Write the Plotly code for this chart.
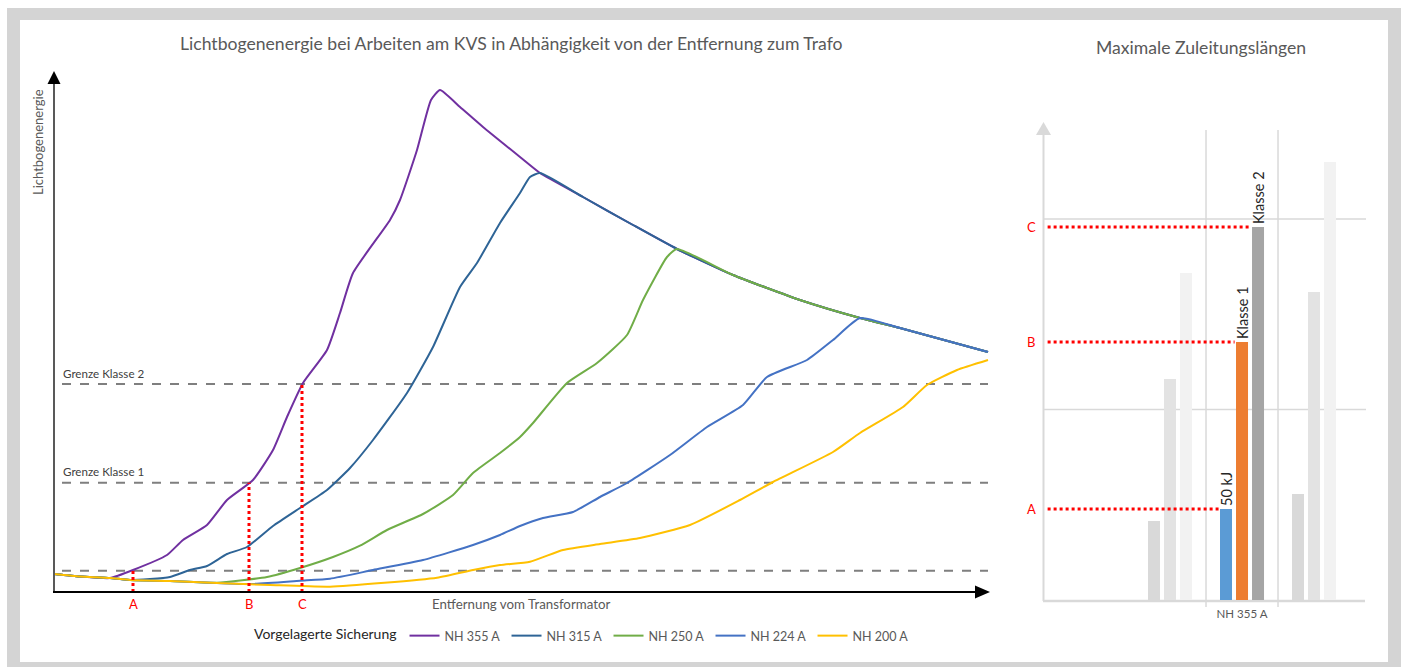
import plotly.graph_objects as go

W, H = 1401, 667

# ---------------- left chart data (arbitrary units: distance / energy) ----------------
envelope_x = [386, 406, 429, 466, 486, 529, 579, 623, 679, 746, 806, 846, 934]
envelope_y = [502, 485, 465, 435, 419, 395, 367, 343, 317, 292, 274, 264, 240]

nh355_x = [0, 26, 56, 79, 113, 129, 153, 173, 199, 219, 233, 249, 273, 286, 299, 336, 346, 363, 377]
nh355_y = [18, 15.5, 14, 22, 37, 52, 67, 92, 112, 142, 175, 209, 242, 279, 319, 372, 392, 442, 492]

nh315_x = [0, 26, 56, 76, 116, 136, 153, 173, 193, 219, 246, 273, 296, 319, 353, 379, 406, 423, 446, 466, 476]
nh315_y = [18, 15.5, 14, 12, 15, 22, 26, 38, 45, 66, 84, 102, 124, 152, 199, 245, 305, 329, 369, 399, 415]

nh250_x = [0, 26, 56, 76, 116, 163, 213, 246, 279, 306, 333, 369, 399, 419, 446, 466, 479, 513, 543, 573, 589, 613]
nh250_y = [18, 15.5, 14, 12, 11, 9.3, 15, 24, 35, 46.3, 62, 78, 97, 119, 139, 155, 169, 209, 229, 257, 292, 335]

nh224_x = [0, 26, 56, 76, 116, 163, 196, 246, 276, 319, 369, 419, 446, 466, 489, 519, 546, 573, 616, 653, 689, 713, 753, 779, 806]
nh224_y = [18, 15.5, 14, 12, 11, 9, 8, 11.3, 13.3, 22, 32, 47, 57, 66, 74, 80, 95, 109, 137, 165, 187, 215, 232, 252, 274]

nh200_x = [0, 26, 56, 76, 116, 163, 216, 276, 383, 419, 446, 476, 509, 546, 586, 636, 686, 719, 779, 806, 849, 873, 903, 934]
nh200_y = [18, 15.5, 14, 12, 11, 9, 7, 5.3, 14.3, 22, 27, 30.3, 42, 48, 54, 67, 92, 110, 140, 159, 185, 207, 222, 232]

series_names = ["NH 355 A", "NH 315 A", "NH 250 A", "NH 224 A", "NH 200 A"]
series_colors = ["#7030a0", "#2e6496", "#70ad47", "#4472c4", "#ffc000"]

grenze_y = [208, 109.3, 21.3]
grenze_labels = ["Grenze Klasse 2", "Grenze Klasse 1", ""]

marker_labels = ["A", "B", "C"]
marker_x = [79, 195, 248]
marker_y = [21.3, 109.3, 208]

# ---------------- right chart data ----------------
group_x = [1, 2, 3]
group_tick = ["NH 355 A"]
bar_50kj = [79, 91, 106]
bar_klasse1 = [221, 258, 308]
bar_klasse2 = [327, 373, 438]
bar_names = ["50 kJ", "Klasse 1", "Klasse 2"]
bar_colors = [
    ["#d9d9d9", "#5b9bd5", "#d9d9d9"],
    ["#e3e3e3", "#ed7d31", "#e3e3e3"],
    ["#f2f2f2", "#a5a5a5", "#f2f2f2"],
]
right_grid_y = [190.5, 381]


def PX(x):
    return x / W


def PY(y):
    return 1 - y / H


FONT = "Lato"
fig = go.Figure()

all_x = [nh355_x, nh315_x, nh250_x, nh224_x, nh200_x]
all_y = [nh355_y, nh315_y, nh250_y, nh224_y, nh200_y]
for name, col, xs, ys in zip(series_names, series_colors, all_x, all_y):
    last = xs[-1]
    ex = [x for x in envelope_x if x > last]
    ey = [y for x, y in zip(envelope_x, envelope_y) if x > last]
    fig.add_trace(go.Scatter(
        x=xs + ex, y=ys + ey, mode="lines", name=name,
        line=dict(color=col, width=2, shape="spline", smoothing=0.5),
        xaxis="x", yaxis="y", hoverinfo="skip"))

bar_vals = [bar_50kj, bar_klasse1, bar_klasse2]
for i, (nm, vals, cols) in enumerate(zip(bar_names, bar_vals, bar_colors)):
    fig.add_trace(go.Bar(
        x=group_x, y=vals, name=nm, marker=dict(color=cols, line=dict(width=0)),
        text=["", nm, ""], textposition="outside", textangle=-90,
        constraintext="none", cliponaxis=False,
        textfont=dict(family=FONT, size=14.5, color="#262626"),
        xaxis="x2", yaxis="y2", showlegend=False, hoverinfo="skip"))

L_X0, L_X1 = 54, 990
L_Y0, L_Y1 = 592, 67
R_X0, R_X1 = 1043, 1366
R_Y0, R_Y1 = 600, 130

shapes = []
# frame
shapes.append(dict(type="rect", xref="paper", yref="paper", x0=PX(7), x1=PX(1410), y0=PY(676), y1=PY(8),
                   fillcolor="#d4d4d4", line=dict(width=0), layer="below"))
shapes.append(dict(type="rect", xref="paper", yref="paper", x0=PX(20), x1=PX(1388), y0=PY(662), y1=PY(20),
                   fillcolor="white", line=dict(width=0), layer="below"))
# threshold dashed lines
for gy in grenze_y:
    shapes.append(dict(type="line", xref="x", yref="y", x0=8, x1=934, y0=gy, y1=gy,
                       line=dict(color="#7f7f7f", width=2, dash="dash"), layer="below"))
# red dotted markers
for mx, my in zip(marker_x, marker_y):
    shapes.append(dict(type="line", xref="x", yref="y", x0=mx, x1=mx, y0=0, y1=my,
                       line=dict(color="#ff0000", width=3, dash="dot")))
# left axes
shapes.append(dict(type="line", xref="paper", yref="paper", x0=PX(54), x1=PX(54), y0=PY(593), y1=PY(82),
                   line=dict(color="#595959", width=2)))
shapes.append(dict(type="path", xref="paper", yref="paper",
                   path=f"M {PX(54)} {PY(71)} L {PX(47.5)} {PY(84)} L {PX(60.5)} {PY(84)} Z",
                   fillcolor="black", line=dict(width=0)))
shapes.append(dict(type="line", xref="paper", yref="paper", x0=PX(53), x1=PX(977), y0=PY(592), y1=PY(592),
                   line=dict(color="black", width=2)))
shapes.append(dict(type="path", xref="paper", yref="paper",
                   path=f"M {PX(990)} {PY(592)} L {PX(975)} {PY(585.5)} L {PX(975)} {PY(598.5)} Z",
                   fillcolor="black", line=dict(width=0)))
# right axes
shapes.append(dict(type="line", xref="paper", yref="paper", x0=PX(1043.5), x1=PX(1043.5), y0=PY(601), y1=PY(134),
                   line=dict(color="#d9d9d9", width=2), layer="below"))
shapes.append(dict(type="path", xref="paper", yref="paper",
                   path=f"M {PX(1043.5)} {PY(122)} L {PX(1036)} {PY(135)} L {PX(1051)} {PY(135)} Z",
                   fillcolor="#d9d9d9", line=dict(width=0), layer="below"))
shapes.append(dict(type="line", xref="paper", yref="paper", x0=PX(1043), x1=PX(1365), y0=PY(601), y1=PY(601),
                   line=dict(color="#d9d9d9", width=2.5), layer="below"))
for gx in [1.5, 2.5]:
    shapes.append(dict(type="line", xref="x2", yref="paper", x0=gx, x1=gx, y0=PY(607), y1=PY(130),
                       line=dict(color="#d9d9d9", width=1.5), layer="below"))
for gy in right_grid_y:
    shapes.append(dict(type="line", xref="paper", yref="y2", x0=PX(1043), x1=PX(1366), y0=gy, y1=gy,
                       line=dict(color="#d9d9d9", width=1.5), layer="below"))
# red dotted lines right chart
slot = 0.667 / 3
for i, (lab, v) in enumerate(zip(marker_labels, [bar_50kj[1], bar_klasse1[1], bar_klasse2[1]])):
    left_edge = 2 - 0.667 / 2 + i * slot + slot * 0.125
    shapes.append(dict(type="line", xref="x2", yref="y2", x0=-0.70, x1=left_edge - 0.02, y0=v, y1=v,
                       line=dict(color="#ff0000", width=3, dash="dot")))

annotations = []
annotations.append(dict(text="Lichtbogenenergie bei Arbeiten am KVS in Abhängigkeit von der Entfernung zum Trafo",
                        xref="paper", yref="paper", x=PX(511), y=PY(44), showarrow=False,
                        font=dict(family=FONT, size=17.6, color="#595959"), xanchor="center", yanchor="middle"))
annotations.append(dict(text="Maximale Zuleitungslängen", xref="paper", yref="paper", x=PX(1201), y=PY(47),
                        showarrow=False, font=dict(family=FONT, size=17.6, color="#595959"),
                        xanchor="center", yanchor="middle"))
annotations.append(dict(text="Lichtbogenenergie", xref="paper", yref="paper", x=PX(38), y=PY(142),
                        showarrow=False, textangle=-90, font=dict(family=FONT, size=13, color="#595959"),
                        xanchor="center", yanchor="middle"))
annotations.append(dict(text="Entfernung vom Transformator", xref="paper", yref="paper", x=PX(521), y=PY(604),
                        showarrow=False, font=dict(family=FONT, size=13.3, color="#595959"),
                        xanchor="center", yanchor="middle"))
for gy, gl in zip(grenze_y, grenze_labels):
    if gl:
        annotations.append(dict(text=gl, xref="x", yref="y", x=7, y=gy + 11, showarrow=False,
                                xanchor="left", yanchor="middle",
                                font=dict(family=FONT, size=11.6, color="#404040")))
for lab, mx in zip(marker_labels, marker_x):
    annotations.append(dict(text=lab, xref="x", yref="paper", x=mx, y=PY(604), showarrow=False,
                            xanchor="center", yanchor="middle", font=dict(family=FONT, size=13, color="#ff0000")))
for lab, v in zip(marker_labels, [bar_50kj[1], bar_klasse1[1], bar_klasse2[1]]):
    annotations.append(dict(text=lab, xref="paper", yref="y2", x=PX(1031), y=v, showarrow=False,
                            xanchor="center", yanchor="middle", font=dict(family=FONT, size=13, color="#ff0000")))

hidden = dict(showline=False, showgrid=False, zeroline=False, showticklabels=False, ticks="")
fig.update_layout(
    width=W, height=H, margin=dict(l=0, r=0, t=0, b=0),
    paper_bgcolor="white", plot_bgcolor="rgba(0,0,0,0)",
    font=dict(family=FONT),
    xaxis=dict(domain=[PX(L_X0), PX(L_X1)], range=[0, L_X1 - L_X0], **hidden),
    yaxis=dict(domain=[PY(L_Y0), PY(L_Y1)], range=[0, L_Y0 - L_Y1], **hidden),
    xaxis2=dict(domain=[PX(R_X0), PX(R_X1)], range=[-0.764, 3.722], anchor="y2",
                showline=False, showgrid=False, zeroline=False, tickvals=[2], ticktext=group_tick,
                tickfont=dict(family=FONT, size=11.5, color="#595959"), ticks="", ticklabelstandoff=5),
    yaxis2=dict(domain=[PY(R_Y0), PY(R_Y1)], range=[0, R_Y0 - R_Y1], anchor="x2",
                showline=False, showgrid=False, zeroline=False, showticklabels=False, ticks=""),
    barmode="group", bargap=0.333, bargroupgap=0.25,
    shapes=shapes, annotations=annotations,
    showlegend=True,
    legend=dict(orientation="h", x=PX(252), y=PY(621), xanchor="left", yanchor="top",
                title=dict(text="Vorgelagerte Sicherung", side="left",
                           font=dict(family=FONT, size=14, color="#262626")),
                font=dict(family=FONT, size=12.5, color="#595959"),
                entrywidth=57, entrywidthmode="pixels", bgcolor="rgba(0,0,0,0)"),
)

fig.write_html("out.html", config={"displayModeBar": False},
               post_script="document.body.style.margin='0';document.body.style.overflow='hidden';")
